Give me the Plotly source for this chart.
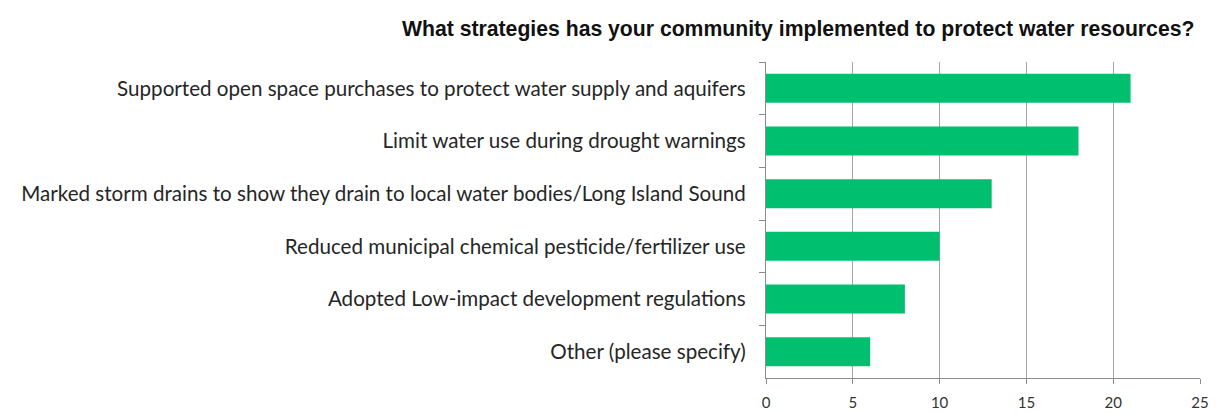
import plotly.graph_objects as go

categories = [
    "Supported open space purchases to protect water supply and aquifers",
    "Limit water use during drought warnings",
    "Marked storm drains to show they drain to local water bodies/Long Island Sound",
    "Reduced municipal chemical pesticide/fertilizer use",
    "Adopted Low-impact development regulations",
    "Other (please specify)",
]
values = [21, 18, 13, 10, 8, 6]
title_text = "<b>What strategies has your community implemented to protect water resources?</b>"

fig = go.Figure(go.Bar(
    x=values, y=categories, orientation="h",
    marker=dict(color="#00BF6F", line=dict(width=0)),
    width=0.55,
))

# page body has an 8px default margin, so the figure is sized 8px smaller
fig.update_layout(
    width=1212, height=405,
    margin=dict(l=758, r=20, t=54, b=35, autoexpand=False),
    plot_bgcolor="white", paper_bgcolor="white",
    showlegend=False,
    title=dict(text=title_text, x=0.652, xanchor="center", y=0.95, yanchor="middle",
               font=dict(family="Liberation Sans, Arial", size=21.2, color="#111111")),
)
fig.update_xaxes(
    range=[0, 25], dtick=5, showgrid=True, gridcolor="#a6a6a6", gridwidth=1,
    showline=True, linecolor="#8c8c8c", linewidth=1.3,
    ticks="outside", ticklen=5, tickcolor="#8c8c8c",
    tickfont=dict(family="Lato, Open Sans", size=15, color="#333333"),
    ticklabelstandoff=6, automargin=False,
    zeroline=False,
)
fig.update_yaxes(
    autorange="reversed", showline=True, linecolor="#8c8c8c", linewidth=1.3,
    ticks="outside", ticklen=6, tickcolor="#8c8c8c", tickson="boundaries",
    tickfont=dict(family="Lato, Open Sans", size=20.6, color="#262626"),
    ticklabelstandoff=15, automargin=False,
)

fig.write_html("out.html")
